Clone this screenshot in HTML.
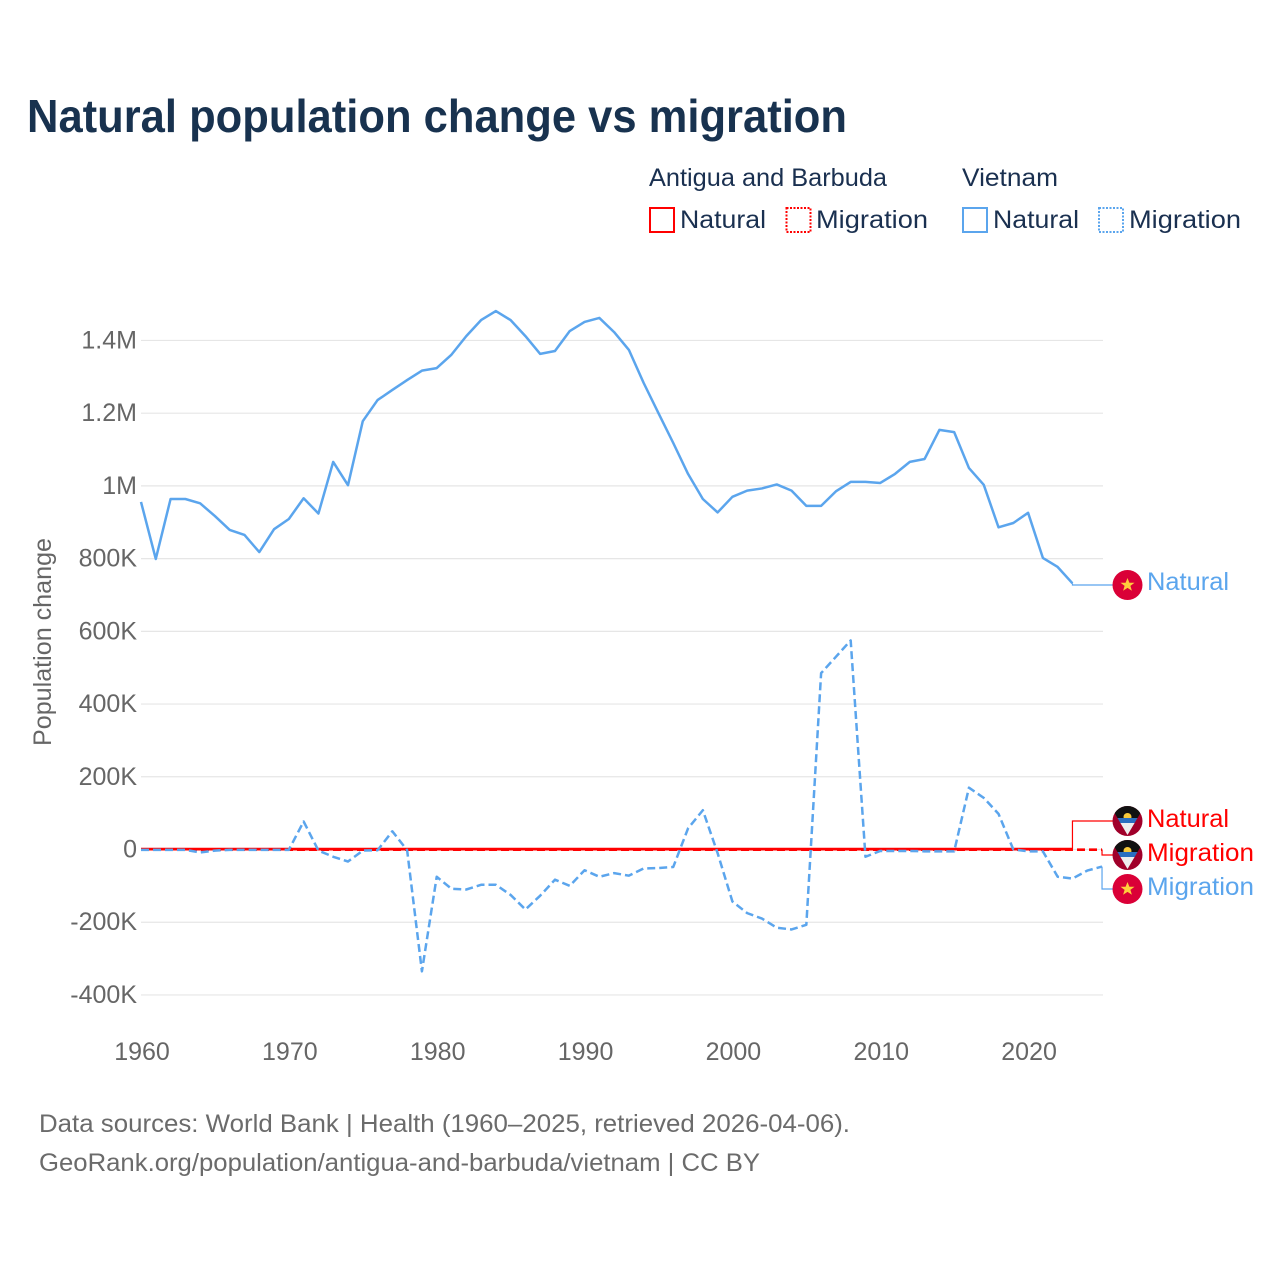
<!DOCTYPE html>
<html>
<head>
<meta charset="utf-8">
<style>
html,body{margin:0;padding:0;background:#fff;}
svg{display:block;font-family:"Liberation Sans",sans-serif;}
</style>
</head>
<body>
<svg id="chart" xmlns="http://www.w3.org/2000/svg" width="1280" height="1280" viewBox="0 0 1280 1280">
  <defs>
    <clipPath id="flag-clip"><circle cx="0" cy="0" r="15"/></clipPath>
    <g id="flag-vn">
      <circle cx="0" cy="0" r="15" fill="#da0037"/>
      <polygon points="0,-7 1.9,-2.2 7,-2.2 2.9,0.9 4.4,5.8 0,2.9 -4.4,5.8 -2.9,0.9 -7,-2.2 -1.9,-2.2" fill="#ffcd3c"/>
    </g>
    <g id="flag-ag">
      <g clip-path="url(#flag-clip)">
        <rect x="-15" y="-15" width="30" height="30" fill="#a0002a"/>
        <polygon points="-15,-15 15,-15 13,-8 10,-3 -10,-3 -13,-8" fill="#111"/>
        <circle cx="0" cy="-4" r="4" fill="#f8c93a"/>
        <polygon points="-10,-3 10,-3 7.1,2 -7.1,2" fill="#2a6fc0"/>
        <polygon points="-7.1,2 7.1,2 0,14" fill="#eeeeee"/>
      </g>
    </g>
  </defs>

  <text x="27" y="132" font-size="46" font-weight="700" fill="#18324f" textLength="820" lengthAdjust="spacingAndGlyphs">Natural population change vs migration</text>

  <g font-size="25" fill="#1a3050">
    <text x="649" y="186" textLength="238" lengthAdjust="spacingAndGlyphs">Antigua and Barbuda</text>
    <text x="962" y="186" textLength="96" lengthAdjust="spacingAndGlyphs">Vietnam</text>
    <rect x="650" y="208" width="24" height="24" fill="none" stroke="#ff0000" stroke-width="2"/>
    <text x="680" y="228" textLength="86" lengthAdjust="spacingAndGlyphs">Natural</text>
    <rect x="786.5" y="208" width="24" height="24" fill="none" stroke="#ff0000" stroke-width="2" stroke-dasharray="2 1.5"/>
    <text x="816" y="228" textLength="112" lengthAdjust="spacingAndGlyphs">Migration</text>
    <rect x="963" y="208" width="24" height="24" fill="none" stroke="#5ba5ed" stroke-width="2"/>
    <text x="993" y="228" textLength="86" lengthAdjust="spacingAndGlyphs">Natural</text>
    <rect x="1099" y="208" width="24" height="24" fill="none" stroke="#5ba5ed" stroke-width="2" stroke-dasharray="2 1.5"/>
    <text x="1129" y="228" textLength="112" lengthAdjust="spacingAndGlyphs">Migration</text>
  </g>

  <text transform="translate(51,642) rotate(-90)" text-anchor="middle" font-size="25" fill="#666" textLength="208" lengthAdjust="spacingAndGlyphs">Population change</text>

  <g id="grid"></g>
  <g id="yticks" font-size="25" fill="#666" text-anchor="end"></g>
  <g id="xticks" font-size="25" fill="#666" text-anchor="middle"></g>
  <g id="series"></g>

  <g font-size="25">
    <use href="#flag-vn" x="1127.5" y="585"/>
    <text x="1147" y="590" fill="#5ba5ed" textLength="82" lengthAdjust="spacingAndGlyphs">Natural</text>
    <use href="#flag-ag" x="1127.5" y="821"/>
    <text x="1147" y="827" fill="#ff0000" textLength="82" lengthAdjust="spacingAndGlyphs">Natural</text>
    <use href="#flag-ag" x="1127.5" y="855"/>
    <text x="1147" y="861" fill="#ff0000" textLength="107" lengthAdjust="spacingAndGlyphs">Migration</text>
    <use href="#flag-vn" x="1127.5" y="889"/>
    <text x="1147" y="895" fill="#5ba5ed" textLength="107" lengthAdjust="spacingAndGlyphs">Migration</text>
  </g>

  <g font-size="25" fill="#6b6b6b">
    <text x="39" y="1132" textLength="811" lengthAdjust="spacingAndGlyphs">Data sources: World Bank | Health (1960–2025, retrieved 2026-04-06).</text>
    <text x="39" y="1171" textLength="721" lengthAdjust="spacingAndGlyphs">GeoRank.org/population/antigua-and-barbuda/vietnam | CC BY</text>
  </g>
</svg>
<script>
// Values in thousands of people. Index 0 is the first year.
const firstYear = 1960;
const xTickYears = [1960, 1970, 1980, 1990, 2000, 2010, 2020];
const yTickValues = [-400, -200, 0, 200, 400, 600, 800, 1000, 1200, 1400];
const yTickLabels = ['-400K', '-200K', '0', '200K', '400K', '600K', '800K', '1M', '1.2M', '1.4M'];

const vietnamNatural = [956, 799, 964, 964, 952, 917, 879, 865, 818, 881,
  909, 966, 924, 1066, 1002, 1178, 1236, 1264, 1291, 1317,
  1324, 1361, 1412, 1456, 1481, 1456, 1412, 1363, 1371, 1426,
  1451, 1462, 1423, 1374, 1283, 1200, 1118, 1033, 964, 927,
  970, 987, 993, 1004, 987, 945, 945, 985, 1011, 1011,
  1008, 1033, 1066, 1074, 1154, 1148, 1049, 1003, 886, 898,
  926, 802, 777, 732];
const vietnamMigration = [-1, -1, -1, -1, -8, -3, -1, -1, -1, -1,
  -1, 77, -3, -20, -33, -3, -2, 50, -2, -335,
  -75, -108, -110, -97, -97, -125, -165, -127, -83, -100,
  -57, -75, -65, -72, -52, -51, -48, 58, 108, -10,
  -143, -175, -190, -215, -220, -207, 485, 530, 575, -20,
  -4, -4, -4, -5, -5, -5, 170, 142, 98, 0,
  -5, -5, -75, -80, -58, -47];
const antiguaNatural = [1, 1, 1, 1, 1, 1, 1, 1, 1, 1,
  1, 1, 1, 1, 1, 1, 1, 1, 1, 1,
  1, 1, 1, 1, 1, 1, 1, 1, 1, 1,
  1, 1, 1, 1, 1, 1, 1, 1, 1, 1,
  1, 1, 1, 1, 1, 1, 1, 1, 1, 1,
  1, 1, 1, 1, 1, 1, 1, 1, 1, 1,
  1, 1, 1, 1];
const antiguaMigration = [-0.5, -0.5, -0.5, -0.5, -0.5, -0.5, -0.5, -0.5, -0.5, -0.5,
  -0.5, -0.5, -0.5, -0.5, -0.5, -0.5, -0.5, -0.5, -0.5, -0.5,
  -0.5, -0.5, -0.5, -0.5, -0.5, -0.5, -0.5, -0.5, -0.5, -0.5,
  -0.5, -0.5, -0.5, -0.5, -0.5, -0.5, -0.5, -0.5, -0.5, -0.5,
  -0.5, -0.5, -0.5, -0.5, -0.5, -0.5, -0.5, -0.5, -0.5, -0.5,
  -0.5, -0.5, -0.5, -0.5, -0.5, -0.5, -0.5, -0.5, -0.5, -0.5,
  -0.5, -0.5, -0.5, -0.5, -0.5, -0.5];

const SVGNS = 'http://www.w3.org/2000/svg';
function xScale(year) { return 141 + (year - 1960) * 14.785; }
function yScale(v) { return 849.5 - v * 0.3636; }
function make(tag, attrs, parent) {
  const el = document.createElementNS(SVGNS, tag);
  for (const k in attrs) el.setAttribute(k, attrs[k]);
  parent.appendChild(el);
  return el;
}
function linePath(values) {
  return values.map(function (v, i) {
    return (i ? 'L' : 'M') + xScale(firstYear + i).toFixed(2) + ' ' + yScale(v).toFixed(2);
  }).join(' ');
}

const gridG = document.getElementById('grid');
const yG = document.getElementById('yticks');
yTickValues.forEach(function (v, i) {
  const line = make('line', { x1: 141, x2: 1103, y1: yScale(v), y2: yScale(v), stroke: '#e6e6e6', 'stroke-width': 1.2 }, gridG);
  
  
  const t = make('text', { x: 137, y: yScale(v) + 8 }, yG);
  
  
  t.textContent = yTickLabels[i];
});

const xG = document.getElementById('xticks');
xTickYears.forEach(function (year) {
  const t = make('text', { x: xScale(year) + 1, y: 1060 }, xG);
  
  
  t.textContent = year;
});

const seriesG = document.getElementById('series');
function drawSeries(name, values, color, dash, width) {
  const attrs = { d: linePath(values), fill: 'none', stroke: color, 'stroke-width': width, 'stroke-linejoin': 'round' };
  if (dash) attrs['stroke-dasharray'] = dash;
  const p = make('path', attrs, seriesG);
  
  
}
function drawConnector(name, values, labelY, color) {
  const ex = xScale(firstYear + values.length - 1);
  const ey = yScale(values[values.length - 1]);
  const d = 'M' + ex + ' ' + ey + ' L' + ex + ' ' + labelY + ' L1113 ' + labelY;
  const p = make('path', { d: d, fill: 'none', stroke: color, 'stroke-width': 1.2 }, seriesG);
  
  
}
drawConnector('connector-antigua-natural', antiguaNatural, 821, '#ff0000');
drawConnector('connector-antigua-migration', antiguaMigration, 855, '#ff0000');
drawConnector('connector-vietnam-natural', vietnamNatural, 585, '#5ba5ed');
drawConnector('connector-vietnam-migration', vietnamMigration, 889, '#5ba5ed');
drawSeries('line-antigua-migration', antiguaMigration, '#ff0000', '8 4', 2.6);
drawSeries('line-antigua-natural', antiguaNatural, '#ff0000', '', 2.8);
drawSeries('line-vietnam-natural', vietnamNatural, '#5ba5ed', '', 2.5);
drawSeries('line-vietnam-migration', vietnamMigration, '#5ba5ed', '8 4', 2.5);
</script>
</body>
</html>
